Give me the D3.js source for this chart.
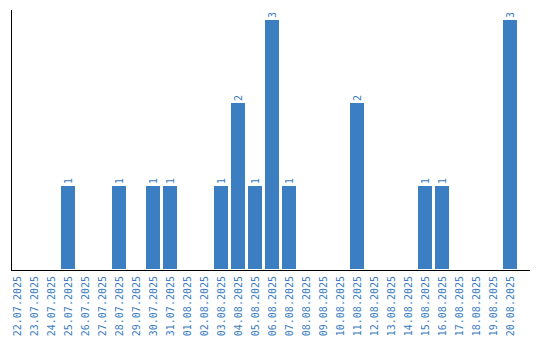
<!DOCTYPE html>
<html>
<head>
<meta charset="utf-8">
<script src="https://cdn.jsdelivr.net/npm/d3@7"></script>
<style>
  body { margin: 0; background: #fff; }
  svg { display: block; }
</style>
</head>
<body>
<svg id="chart" width="540" height="340"></svg>
<script>
// Dates shown on the x axis
const dates = [
  "22.07.2025", "23.07.2025", "24.07.2025", "25.07.2025", "26.07.2025",
  "27.07.2025", "28.07.2025", "29.07.2025", "30.07.2025", "31.07.2025",
  "01.08.2025", "02.08.2025", "03.08.2025", "04.08.2025", "05.08.2025",
  "06.08.2025", "07.08.2025", "08.08.2025", "09.08.2025", "10.08.2025",
  "11.08.2025", "12.08.2025", "13.08.2025", "14.08.2025", "15.08.2025",
  "16.08.2025", "17.08.2025", "18.08.2025", "19.08.2025", "20.08.2025"
];
// Count per day
const counts = [
  0, 0, 0, 1, 0,
  0, 1, 0, 1, 1,
  0, 0, 1, 2, 1,
  3, 1, 0, 0, 0,
  2, 0, 0, 0, 1,
  1, 0, 0, 0, 3
];

const barColor = "#3b7ec2";
const textColor = "#3a7cc0";
const labelFont = "DejaVu Sans Mono, monospace";

const svg = d3.select("#chart");
const margin = {top: 20, left: 10, axisLeft: 11, axisTop: 10, bottom: 269};

const data = dates.map((d, i) => ({date: d, value: counts[i]}));

// Set up scales
const xScale = d3.scaleBand()
  .domain(dates)
  .range([margin.left - 1.5, margin.left + 510 - 1.5])
  .paddingInner(3 / 17)
  .paddingOuter(3 / 34);

const yScale = d3.scaleLinear()
  .domain([0, d3.max(counts)])
  .range([margin.bottom, margin.top]);

// Bars (only non-zero ones are visible)
svg.selectAll(".bar")
  .data(data.filter(d => d.value > 0))
  .enter()
  .append("rect")
  .attr("class", "bar")
  .attr("x", d => xScale(d.date))
  .attr("y", d => yScale(d.value))
  .attr("width", xScale.bandwidth())
  .attr("height", d => yScale(0) - yScale(d.value))
  .attr("fill", barColor);

// Value labels above bars, rotated
svg.selectAll(".value-label")
  .data(data.filter(d => d.value > 0))
  .enter()
  .append("text")
  .attr("class", "value-label")
  .attr("transform", d => `translate(${xScale(d.date) + xScale.bandwidth() / 2},${yScale(d.value) - 2}) rotate(-90)`)
  .attr("dy", "0.35em")
  .attr("text-anchor", "start")
  .attr("font-family", labelFont)
  .attr("font-size", "10px")
  .attr("fill", textColor)
  .text(d => d.value);

// X axis
const xAxis = svg.append("g")
  .attr("transform", `translate(0,${margin.bottom + 1})`)
  .call(d3.axisBottom(xScale).tickSize(0).tickPadding(6));

xAxis.select(".domain")
  .attr("d", `M${margin.axisLeft},0.5H530`)
  .attr("stroke", "#000");

xAxis.selectAll("text")
  .attr("transform", "rotate(-90)")
  .attr("x", -6)
  .attr("y", 0)
  .attr("dy", "0.35em")
  .style("text-anchor", "end")
  .attr("font-family", labelFont)
  .attr("font-size", "10px")
  .attr("fill", textColor);

// Y axis line only
svg.append("line")
  .attr("x1", margin.axisLeft + 0.5)
  .attr("x2", margin.axisLeft + 0.5)
  .attr("y1", margin.axisTop)
  .attr("y2", margin.bottom + 1)
  .attr("stroke", "#000");
</script>
</body>
</html>
